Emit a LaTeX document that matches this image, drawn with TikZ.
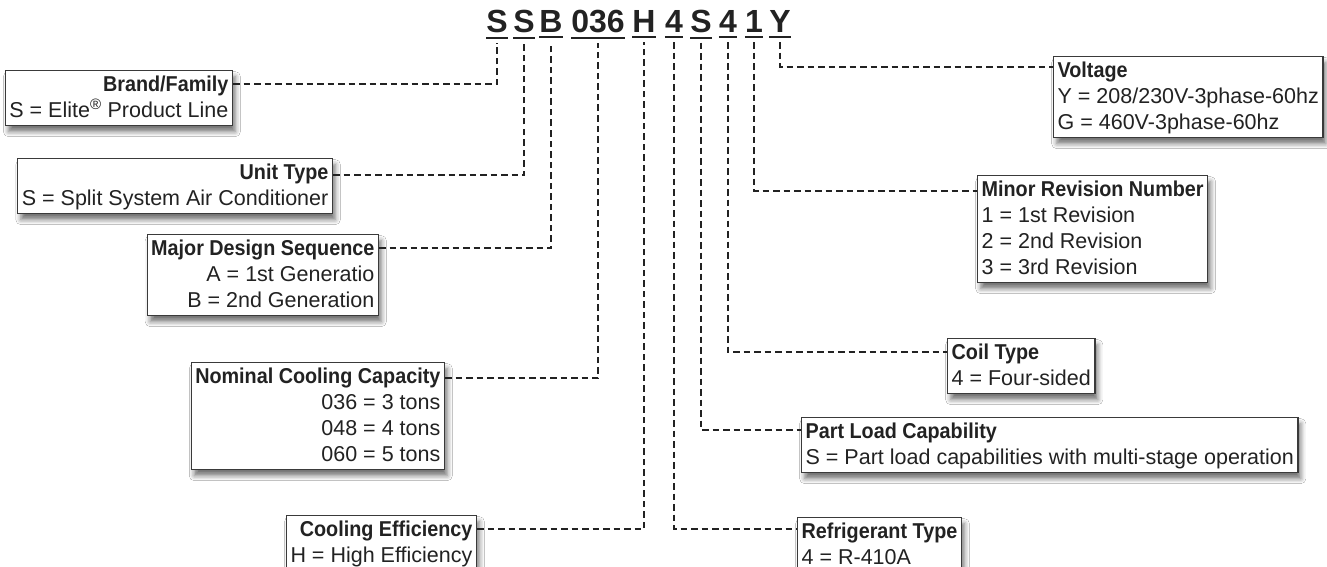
\documentclass[tikz,border=0pt]{standalone}
\usepackage{fontspec}
\setmainfont{Liberation Sans}[BoldFeatures={FakeStretch=0.92}]
\newfontfamily\codefont{Liberation Sans}
\usetikzlibrary{shadows.blur}
\definecolor{ink}{HTML}{222222}
\definecolor{frame}{HTML}{3A3A3A}
\newcommand{\rowstrut}{\rule[-7pt]{0pt}{26pt}}
\tikzset{
  infobox/.style={draw=frame, line width=1.3pt, fill=white, inner xsep=4pt, inner ysep=1.5pt,
    font=\fontsize{21.5}{26}\selectfont, text=ink,
    blur shadow={shadow xshift=3pt, shadow yshift=-6pt, shadow blur radius=5pt, shadow opacity=55}},
  lbox/.style={infobox, align=right, anchor=north east},
  rbox/.style={infobox, align=left, anchor=north west},
  code/.style={font=\codefont\fontsize{32}{32}\selectfont\bfseries, text=ink, inner sep=0pt, anchor=base},
  uline/.style={draw=ink, line width=2pt},
  conn/.style={draw=ink, line width=2.1pt, dash pattern=on 6.5pt off 4pt},
}
\begin{document}
\begin{tikzpicture}[x=1pt,y=-1pt]
\useasboundingbox (0,0) rectangle (1327,567);
\clip (0,0) rectangle (1327,567);
\fill[white] (0,0) rectangle (1327,567);

% code letters
\node[code] (c1) at (497,33) {S};
\node[code] (c2) at (524,33) {S};
\node[code] (c3) at (551,33) {B};
\node[code] (c4) at (598,33) {036};
\node[code] (c5) at (644,33) {H};
\node[code] (c6) at (674,33) {4};
\node[code] (c7) at (701,33) {S};
\node[code] (c8) at (728,33) {4};
\node[code] (c9) at (754,33) {1};
\node[code] (c10) at (780,33) {Y};
\foreach \c in {c1,c2,c3,c4,c5,c6,c7,c8,c9,c10}
  \draw[uline] ([yshift=-4pt]\c.south west) -- ([yshift=-4pt]\c.south east);

% left boxes
\node[lbox] (bf) at (233,70) {\textbf{Brand/Family}\rowstrut\\S = Elite\textsuperscript{®} Product Line\rowstrut};
\node[lbox] (ut) at (333,158) {\textbf{Unit Type}\rowstrut\\S = Split System Air Conditioner\rowstrut};
\node[lbox] (md) at (379,234) {\textbf{Major Design Sequence}\rowstrut\\A = 1st Generatio\rowstrut\\B = 2nd Generation\rowstrut};
\node[lbox] (nc) at (445,362) {\textbf{Nominal Cooling Capacity}\rowstrut\\036 = 3 tons\rowstrut\\048 = 4 tons\rowstrut\\060 = 5 tons\rowstrut};
\node[lbox] (ce) at (477,515) {\textbf{Cooling Efficiency}\rowstrut\\H = High Efficiency\rowstrut};

% right boxes
\node[rbox] (vo) at (1053,56) {\textbf{Voltage}\rowstrut\\Y = 208/230V-3phase-60hz\rowstrut\\G = 460V-3phase-60hz\rowstrut};
\node[rbox] (mr) at (977,175) {\textbf{Minor Revision Number}\rowstrut\\1 = 1st Revision\rowstrut\\2 = 2nd Revision\rowstrut\\3 = 3rd Revision\rowstrut};
\node[rbox] (ct) at (947,338) {\textbf{Coil Type}\rowstrut\\4 = Four-sided\rowstrut};
\node[rbox] (pl) at (801,417) {\textbf{Part Load Capability}\rowstrut\\S = Part load capabilities with multi-stage operation\rowstrut};
\node[rbox] (rt) at (797,517) {\textbf{Refrigerant Type}\rowstrut\\4 = R-410A\rowstrut};

% connectors
\draw[conn] ([yshift=-14pt]bf.north east) -| ([yshift=-9pt]c1.south);
\draw[conn] ([yshift=-17pt]ut.north east) -| ([yshift=-9pt]c2.south);
\draw[conn] ([yshift=-14pt]md.north east) -| ([yshift=-9pt]c3.south);
\draw[conn] ([yshift=-16pt]nc.north east) -| ([yshift=-9pt]c4.south);
\draw[conn] ([yshift=-14pt]ce.north east) -| ([yshift=-9pt]c5.south);
\draw[conn] ([yshift=-9pt]c6.south) |- ([yshift=-12pt]rt.north west);
\draw[conn] ([yshift=-9pt]c7.south) |- ([yshift=-13pt]pl.north west);
\draw[conn] ([yshift=-9pt]c8.south) |- ([yshift=-14pt]ct.north west);
\draw[conn] ([yshift=-9pt]c9.south) |- ([yshift=-16pt]mr.north west);
\draw[conn] ([yshift=-9pt]c10.south) |- ([yshift=-11pt]vo.north west);
\end{tikzpicture}
\end{document}
